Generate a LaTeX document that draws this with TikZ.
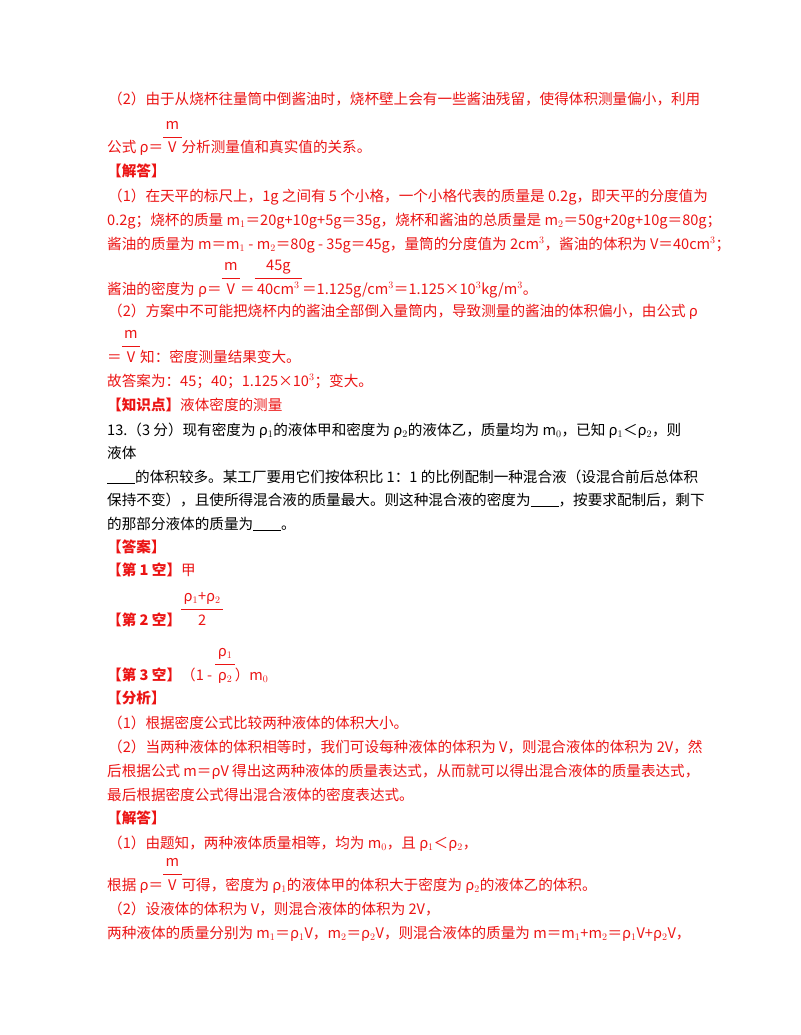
\documentclass[tikz,border=0pt]{standalone}
\usepackage{fontspec}
\setmainfont{Noto Sans CJK SC}
\usepackage{xcolor}
\definecolor{ans}{RGB}{235,20,20}
\newcommand\fr[2]{\begin{tabular}[b]{@{\,}c@{\,}}#1\\[2pt]\hline\vphantom{\rule{1pt}{16pt}}#2\end{tabular}}
\newcommand\blank{\rule[-2pt]{28pt}{0.8pt}}
\begin{document}
\begin{tikzpicture}[x=1pt,y=-1pt,
  ln/.style={anchor=base west,inner sep=0pt,font=\fontsize{14.6}{16}\selectfont,text=ans},
  bk/.style={ln,text=black}]
\useasboundingbox (0,0) rectangle (800,1035);
\node[ln] (l1) at (108,105) {（2）由于从烧杯往量筒中倒酱油时，烧杯壁上会有一些酱油残留，使得体积测量偏小，利用};
\node[ln] (l2) at (107,153) {公式 ρ＝\fr{m}{V}分析测量值和真实值的关系。};
\node[ln] (l3) at (107,176) {\textbf{【解答】}};
\node[ln] (l4) at (108,201) {（1）在天平的标尺上，1g 之间有 5 个小格，一个小格代表的质量是 0.2g，即天平的分度值为};
\node[ln] (l5) at (107,225) {0.2g；烧杯的质量 m$_1$＝20g+10g+5g＝35g，烧杯和酱油的总质量是 m$_2$＝50g+20g+10g＝80g；};
\node[ln] (l6) at (107,249) {酱油的质量为 m＝m$_1$ - m$_2$＝80g - 35g＝45g，量筒的分度值为 2cm$^3$，酱油的体积为 V＝40cm$^3$；};
\node[ln] (l7) at (107,294) {酱油的密度为 ρ＝\fr{m}{V}＝\fr{45g}{40cm$^3$}＝1.125g/cm$^3$＝1.125×10$^3$kg/m$^3$。};
\node[ln] (l8) at (108,316) {（2）方案中不可能把烧杯内的酱油全部倒入量筒内，导致测量的酱油的体积偏小，由公式 ρ};
\node[ln] (l9) at (107,362) {＝\fr{m}{V}知：密度测量结果变大。};
\node[ln] (l10) at (107,386) {故答案为：45；40；1.125×10$^3$；变大。};
\node[ln] (l11) at (107,410) {\textbf{【知识点】}液体密度的测量};
\node[bk] (q1) at (107,435) {13.（3 分）现有密度为 ρ$_1$的液体甲和密度为 ρ$_2$的液体乙，质量均为 m$_0$，已知 ρ$_1$＜ρ$_2$，则};
\node[bk] (q2) at (107,458) {液体};
\node[bk] (q3) at (107,482) {\blank 的体积较多。某工厂要用它们按体积比 1：1 的比例配制一种混合液（设混合前后总体积};
\node[bk] (q4) at (107,505) {保持不变），且使所得混合液的质量最大。则这种混合液的密度为\blank ，按要求配制后，剩下};
\node[bk] (q5) at (107,529) {的那部分液体的质量为\blank 。};
\node[ln] (a1) at (107,552) {\textbf{【答案】}};
\node[ln] (a2) at (107,575) {\textbf{【第 1 空】}甲};
\node[ln] (a3) at (107,625) {\textbf{【第 2 空】}\fr{ρ$_1$+ρ$_2$}{2}};
\node[ln] (a4) at (107,680) {\textbf{【第 3 空】}（1 - \fr{ρ$_1$}{ρ$_2$}）m$_0$};
\node[ln] (b1) at (107,703) {\textbf{【分析】}};
\node[ln] (b2) at (108,728) {（1）根据密度公式比较两种液体的体积大小。};
\node[ln] (b3) at (108,752) {（2）当两种液体的体积相等时，我们可设每种液体的体积为 V，则混合液体的体积为 2V，然};
\node[ln] (b4) at (107,776) {后根据公式 m＝ρV 得出这两种液体的质量表达式，从而就可以得出混合液体的质量表达式，};
\node[ln] (b5) at (107,800) {最后根据密度公式得出混合液体的密度表达式。};
\node[ln] (c1) at (107,823) {\textbf{【解答】}};
\node[ln] (c2) at (108,848) {（1）由题知，两种液体质量相等，均为 m$_0$，且 ρ$_1$＜ρ$_2$，};
\node[ln] (c3) at (107,890) {根据 ρ＝\fr{m}{V}可得，密度为 ρ$_1$的液体甲的体积大于密度为 ρ$_2$的液体乙的体积。};
\node[ln] (c4) at (108,914) {（2）设液体的体积为 V，则混合液体的体积为 2V，};
\node[ln] (c5) at (107,938) {两种液体的质量分别为 m$_1$＝ρ$_1$V，m$_2$＝ρ$_2$V，则混合液体的质量为 m＝m$_1$+m$_2$＝ρ$_1$V+ρ$_2$V，};
\end{tikzpicture}
\end{document}
